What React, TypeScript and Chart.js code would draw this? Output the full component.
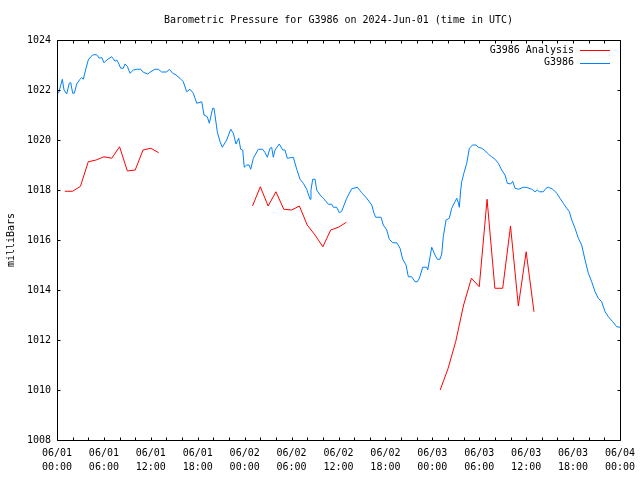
import React, { useEffect, useRef } from "react";
import { Chart, registerables } from "chart.js";

Chart.register(...registerables);

const TITLE = "Barometric Pressure for G3986 on 2024-Jun-01 (time in UTC)";
const Y_TITLE = "milliBars";
const FONT_FAMILY = "'DejaVu Sans Mono', 'Liberation Mono', monospace";

const X_TICK_DATES = ["06/01", "06/01", "06/01", "06/01", "06/02", "06/02", "06/02", "06/02", "06/03", "06/03", "06/03", "06/03", "06/04"];
const X_TICK_TIMES = ["00:00", "06:00", "12:00", "18:00", "00:00", "06:00", "12:00", "18:00", "00:00", "06:00", "12:00", "18:00", "00:00"];

// Hours since 2024-06-01 00:00 UTC
const analysisHours = [
  1, 2, 3, 4, 5, 6, 7, 8, 9, 10, 11, 12, 13, 19,
  25, 26, 27, 28, 29, 30, 31, 32, 33, 34, 35, 36, 37, 43,
  49, 50, 51, 52, 53, 54, 55, 56, 57, 58, 59, 60, 61,
];
const analysisPressure = [
  1017.95, 1017.95, 1018.15, 1019.13, 1019.2, 1019.33, 1019.27, 1019.73, 1018.76, 1018.8, 1019.6, 1019.67, 1019.49, null,
  1017.36, 1018.13, 1017.36, 1017.93, 1017.23, 1017.2, 1017.36, 1016.6, 1016.2, 1015.73, 1016.4, 1016.51, 1016.71, null,
  1010.0, 1010.85, 1011.95, 1013.4, 1014.47, 1014.13, 1017.63, 1014.07, 1014.07, 1016.56, 1013.36, 1015.53, 1013.13,
];

const stationHours = [
  0.2, 0.68, 0.9, 1.24, 1.57, 1.75, 2.01, 2.21, 2.52, 2.94, 3.16, 3.36, 3.71, 4.0, 4.31, 4.64, 5.08, 5.41, 5.72,
  6.01, 6.36, 7.0, 7.2, 7.42, 7.64, 7.84, 8.15, 8.48, 8.7, 8.99, 9.34, 9.76, 10.19, 10.7, 11.04, 11.6, 11.89,
  12.53, 12.96, 13.39, 14.03, 14.36, 14.8, 15.22, 15.73, 16.15, 16.59, 17.01, 17.43, 17.87, 18.51, 18.8, 19.22,
  19.48, 19.91, 20.08, 20.5, 20.85, 21.14, 21.7, 22.22, 22.55, 22.89, 23.24, 23.49, 23.75, 23.95, 24.26, 24.56,
  24.77, 25.11, 25.74, 26.31, 26.6, 26.9, 27.24, 27.46, 27.66, 27.88, 28.43, 28.87, 29.16, 29.45, 30.22, 30.66,
  31.08, 31.5, 31.93, 32.36, 32.48, 32.7, 33.0, 33.21, 33.64, 34.06, 34.7, 35.13, 35.34, 35.77, 36.1, 36.41,
  37.05, 37.69, 38.41, 38.97, 39.61, 40.25, 40.54, 40.76, 41.44, 41.73, 42.17, 42.5, 42.93, 43.45, 43.87, 44.21,
  44.64, 44.93, 45.36, 45.79, 46.08, 46.34, 46.77, 47.28, 47.41, 47.7, 47.92, 48.34, 48.64, 48.98, 49.2, 49.4,
  49.75, 50.17, 50.48, 50.9, 51.12, 51.32, 51.45, 51.63, 51.76, 52.05, 52.4, 52.73, 53.17, 53.59, 53.88, 54.32,
  54.74, 55.16, 55.59, 56.02, 56.44, 56.87, 57.3, 57.59, 58.02, 58.28, 58.57, 59.0, 59.64, 60.07, 60.71, 61.13,
  61.43, 61.68, 62.19, 62.54, 62.83, 63.4, 63.91, 64.33, 64.75, 65.19, 65.52, 65.83, 66.25, 66.67, 67.1, 67.53,
  67.95, 68.38, 68.81, 69.23, 69.66, 70.09, 70.51, 71.07, 71.58, 72.0,
];
const stationPressure = [
  1021.87, 1022.43, 1022.0, 1021.84, 1022.27, 1022.3, 1021.87, 1021.87, 1022.24, 1022.43, 1022.5, 1022.43, 1022.87, 1023.2, 1023.33, 1023.41, 1023.41, 1023.27, 1023.3,
  1023.09, 1023.2, 1023.33, 1023.25, 1023.15, 1023.2, 1023.09, 1022.87, 1022.87, 1023.04, 1022.95, 1022.67, 1022.8, 1022.83, 1022.83, 1022.71, 1022.64, 1022.71,
  1022.83, 1022.83, 1022.72, 1022.72, 1022.83, 1022.67, 1022.6, 1022.47, 1022.33, 1021.93, 1022.03, 1021.87, 1021.47, 1021.53, 1021.0, 1020.93,
  1020.67, 1021.27, 1021.27, 1020.33, 1019.93, 1019.71, 1020.0, 1020.43, 1020.27, 1019.84, 1020.07, 1019.63, 1019.6, 1018.91, 1019.0, 1019.0,
  1018.83, 1019.27, 1019.63, 1019.63, 1019.5, 1019.31, 1019.67, 1019.7, 1019.31, 1019.6, 1019.84, 1019.6, 1019.6, 1019.27, 1019.31, 1018.83,
  1018.43, 1018.27, 1018.03, 1017.63, 1018.0, 1018.43, 1018.43, 1018.0, 1017.8, 1017.67, 1017.43, 1017.43, 1017.31, 1017.31, 1017.09, 1017.15,
  1017.67, 1018.05, 1018.11, 1017.89, 1017.67, 1017.4, 1017.07, 1016.91, 1016.91, 1016.6, 1016.4, 1016.03, 1015.89, 1015.89, 1015.67, 1015.23,
  1015.0, 1014.53, 1014.53, 1014.33, 1014.33, 1014.47, 1014.91, 1014.91, 1014.8, 1015.31, 1015.71, 1015.4, 1015.23, 1015.23, 1015.44, 1016.13,
  1016.8, 1016.87, 1017.27, 1017.53, 1017.67, 1017.5, 1017.31, 1018.0, 1018.33, 1018.69, 1019.07, 1019.67, 1019.8, 1019.8, 1019.71, 1019.67,
  1019.57, 1019.44, 1019.33, 1019.23, 1019.07, 1018.8, 1018.6, 1018.27, 1018.24, 1018.35, 1018.07, 1018.03, 1018.11, 1018.1, 1018.03, 1017.93,
  1018.0, 1017.93, 1017.93, 1018.07, 1018.11, 1018.03, 1017.87, 1017.67, 1017.47, 1017.27, 1017.13, 1016.8, 1016.47, 1016.07, 1015.8, 1015.2,
  1014.67, 1014.33, 1013.93, 1013.67, 1013.53, 1013.13, 1012.93, 1012.73, 1012.53, 1012.51,
];

const X_MIN = 0;
const X_MAX = 72;
const X_LABEL_STEP = 6;
const X_MINOR_STEP = 2;
const Y_MIN = 1008;
const Y_MAX = 1024;
const Y_STEP = 2;

const RED = "rgb(255,0,0)";
const BLUE = "rgb(0,128,255)";

const framePlugin = {
  id: "gnuplotFrame",
  afterDraw(chart: any) {
    const { ctx, chartArea: a, scales } = chart;
    const xs = scales.x;
    const ys = scales.y;
    const L = Math.round(a.left) + 0.5;
    const R = Math.round(a.right) + 0.5;
    const T = Math.round(a.top) + 0.5;
    const B = Math.round(a.bottom) + 0.5;
    ctx.save();
    ctx.strokeStyle = "#000";
    ctx.lineWidth = 1;
    ctx.beginPath();
    ctx.rect(L, T, R - L, B - T);
    const tick = 3;
    for (let h = X_MIN; h <= X_MAX; h += X_MINOR_STEP) {
      const x = Math.round(xs.getPixelForValue(h)) + 0.5;
      ctx.moveTo(x, B);
      ctx.lineTo(x, B - tick);
      ctx.moveTo(x, T);
      ctx.lineTo(x, T + tick);
    }
    for (let v = Y_MIN; v <= Y_MAX; v += Y_STEP) {
      const y = Math.round(ys.getPixelForValue(v)) + 0.5;
      ctx.moveTo(L, y);
      ctx.lineTo(L + tick, y);
      ctx.moveTo(R, y);
      ctx.lineTo(R - tick, y);
    }
    ctx.stroke();

    // title
    ctx.fillStyle = "#000";
    ctx.font = `10px ${FONT_FAMILY}`;
    ctx.textAlign = "center";
    ctx.textBaseline = "middle";
    ctx.fillText(TITLE, (a.left + a.right) / 2, 20);

    // legend (gnuplot style, top right inside plot)
    const textRight = a.right - 46;
    chart.data.datasets.forEach((ds: any, i: number) => {
      const y = a.top + 10 + i * 12.5;
      ctx.textAlign = "right";
      ctx.fillStyle = "#000";
      ctx.fillText(ds.label, textRight, y);
      ctx.strokeStyle = ds.borderColor;
      ctx.beginPath();
      const ly = Math.round(y) + 0.5;
      ctx.moveTo(textRight + 6, ly);
      ctx.lineTo(textRight + 36, ly);
      ctx.stroke();
    });
    ctx.restore();
  },
};

export default function App() {
  const canvasRef = useRef<HTMLCanvasElement | null>(null);

  useEffect(() => {
    const canvas = canvasRef.current;
    if (!canvas) return;
    const redData = analysisHours.map((h, i) => ({ x: h, y: analysisPressure[i] }));
    const blueData = stationHours.map((h, i) => ({ x: h, y: stationPressure[i] }));
    const chart = new Chart(canvas, {
      type: "line",
      data: {
        datasets: [
          {
            label: "G3986 Analysis",
            data: redData as any,
            borderColor: RED,
            backgroundColor: RED,
            borderWidth: 1,
            pointRadius: 0,
            tension: 0,
            spanGaps: false,
          },
          {
            label: "G3986",
            data: blueData as any,
            borderColor: BLUE,
            backgroundColor: BLUE,
            borderWidth: 1,
            pointRadius: 0,
            tension: 0,
          },
        ],
      },
      options: {
        responsive: false,
        animation: false,
        layout: { padding: { top: 40, right: 20, left: 0, bottom: 0 } },
        plugins: {
          legend: { display: false },
          title: { display: false },
          tooltip: { enabled: false },
        },
        scales: {
          x: {
            type: "linear",
            min: X_MIN,
            max: X_MAX,
            grid: { display: false, drawTicks: false },
            border: { display: false },
            ticks: {
              stepSize: X_LABEL_STEP,
              autoSkip: false,
              maxRotation: 0,
              minRotation: 0,
              padding: 6,
              color: "#000",
              font: { family: FONT_FAMILY, size: 10, lineHeight: 1.4 },
              callback: (value: any) => {
                const i = Math.round(Number(value) / X_LABEL_STEP);
                return [X_TICK_DATES[i], X_TICK_TIMES[i]];
              },
            },
            afterFit: (scale: any) => {
              scale.height = 40;
              scale.paddingLeft = 0;
              scale.paddingRight = 0;
            },
          },
          y: {
            type: "linear",
            min: Y_MIN,
            max: Y_MAX,
            grid: { display: false, drawTicks: false },
            border: { display: false },
            ticks: {
              stepSize: Y_STEP,
              padding: 6,
              color: "#000",
              font: { family: FONT_FAMILY, size: 10 },
              callback: (value: any) => String(value),
            },
            title: {
              display: true,
              text: Y_TITLE,
              color: "#000",
              font: { family: FONT_FAMILY, size: 10 },
              padding: { top: 5, bottom: 0 },
            },
            afterFit: (scale: any) => {
              scale.width = 57;
              scale.paddingTop = 0;
              scale.paddingBottom = 0;
            },
          },
        },
      },
      plugins: [framePlugin],
    });
    return () => chart.destroy();
  }, []);

  return (
    <div style={{ position: "fixed", left: 0, top: 0, width: 640, height: 480, background: "#fff" }}>
      <canvas ref={canvasRef} width={640} height={480} style={{ width: 640, height: 480, display: "block" }} />
    </div>
  );
}
